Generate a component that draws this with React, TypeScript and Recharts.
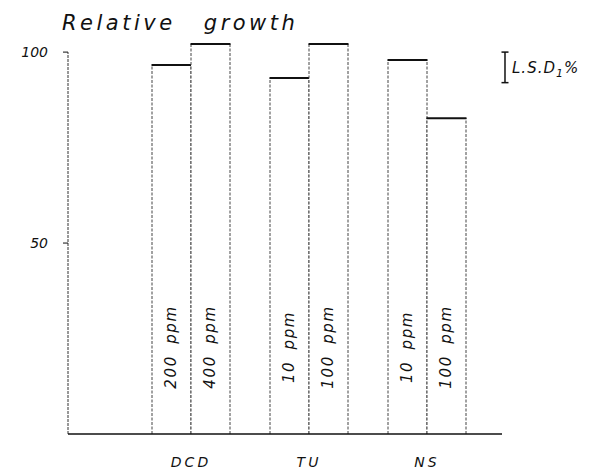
import React from "react";
import {
  ComposedChart,
  Bar,
  XAxis,
  YAxis,
  ReferenceLine,
  LabelList,
} from "recharts";

const groups = ["DCD", "TU", "NS"];
const lowDoseLabels = ["200 ppm", "10 ppm", "10 ppm"];
const highDoseLabels = ["400 ppm", "100 ppm", "100 ppm"];
const lowDoseValues = [96.6, 93.2, 97.9];
const highDoseValues = [102.1, 102.1, 82.7];
const yTicks = [50, 100];
const lsdTop = 100;
const lsdValue = 8;

const data = groups.map((g, i) => ({
  group: g,
  low: lowDoseValues[i],
  high: highDoseValues[i],
  lowLabel: lowDoseLabels[i],
  highLabel: highDoseLabels[i],
}));

const FONT = "'DejaVu Sans', 'Liberation Sans', sans-serif";

// horizontal positions along the hidden helper axis (0 = plot left, 2 = plot right)
const AXIS_END = 1.9204;
const LSD_X = 1.9336;
const LSD_CAP = 0.0155;

const BarShape = (p: any) => {
  const { x, y, width, height } = p;
  if (width == null || height == null) return null;
  return (
    <g>
      <rect x={x} y={y} width={width} height={height} fill="#fff" />
      <line x1={x} y1={y + height} x2={x} y2={y} stroke="#444" strokeWidth={1} strokeDasharray="3 1.5" />
      <line x1={x + width} y1={y + height} x2={x + width} y2={y} stroke="#444" strokeWidth={1} strokeDasharray="3 1.5" />
      <line x1={x - 0.5} y1={y} x2={x + width + 0.5} y2={y} stroke="#111" strokeWidth={2} />
    </g>
  );
};

const RotLabel = (props: any) => {
  const vb = props.viewBox || {};
  const x = props.x ?? vb.x;
  const y = props.y ?? vb.y;
  const width = props.width ?? vb.width;
  const height = props.height ?? vb.height;
  const cx = x + width / 2 - 1;
  const cy = y + height - 87;
  return (
    <text
      x={cx}
      y={cy}
      transform={`rotate(-90 ${cx} ${cy})`}
      textAnchor="middle"
      dominantBaseline="central"
      fontFamily={FONT}
      fontStyle="italic"
      fontSize={15}
      letterSpacing={1.6}
      wordSpacing={5}
      fill="#111"
    >
      {props.value}
    </text>
  );
};

export default function App() {
  return (
    <div style={{ position: "absolute", left: 0, top: 0, width: 589, height: 471, background: "#fff" }}>
      <div
        style={{
          position: "absolute",
          left: 62,
          top: 11,
          fontFamily: FONT,
          fontStyle: "italic",
          fontSize: 21,
          letterSpacing: 3.5,
          wordSpacing: 18,
          color: "#111",
          whiteSpace: "nowrap",
        }}
      >
        Relative growth
      </div>
      <div
        style={{
          position: "absolute",
          left: 512,
          top: 59,
          fontFamily: FONT,
          fontStyle: "italic",
          fontSize: 15,
          letterSpacing: 1,
          color: "#111",
          whiteSpace: "nowrap",
        }}
      >
        L.S.D<sub style={{ fontSize: 11 }}>1</sub>%
      </div>
      <ComposedChart
        width={589}
        height={471}
        data={data}
        margin={{ top: 33, right: 69, bottom: 7, left: 8 }}
        barCategoryGap={20}
        barGap={0}
      >
        <XAxis
          xAxisId="cat"
          dataKey="group"
          padding={{ left: 64, right: 34 }}
          axisLine={false}
          tickLine={false}
          height={30}
          tickMargin={17}
          tick={{ fontFamily: FONT, fontStyle: "italic", fontSize: 14, fill: "#111", letterSpacing: 3 }}
          interval={0}
        />
        <XAxis xAxisId="num" type="number" domain={[0, 2]} allowDataOverflow hide />
        <YAxis
          domain={[0, 105]}
          ticks={yTicks}
          width={60}
          axisLine={false}
          tickSize={5}
          tickMargin={15}
          tickLine={{ stroke: "#111" }}
          tick={{ fontFamily: FONT, fontStyle: "italic", fontSize: 14, fill: "#111" }}
        />
        <ReferenceLine
          xAxisId="num"
          segment={[{ x: 0, y: 0 }, { x: 0, y: 100 }]}
          stroke="#333"
          strokeDasharray="3 1"
          ifOverflow="visible"
        />
        <ReferenceLine
          xAxisId="num"
          segment={[{ x: 0, y: 0 }, { x: AXIS_END, y: 0 }]}
          stroke="#111"
          strokeWidth={1.6}
          ifOverflow="visible"
        />
        <ReferenceLine
          xAxisId="num"
          segment={[{ x: LSD_X, y: lsdTop }, { x: LSD_X, y: lsdTop - lsdValue }]}
          stroke="#111"
          strokeWidth={1.5}
          ifOverflow="visible"
        />
        <ReferenceLine
          xAxisId="num"
          segment={[{ x: LSD_X - LSD_CAP, y: lsdTop }, { x: LSD_X + LSD_CAP, y: lsdTop }]}
          stroke="#111"
          strokeWidth={1.5}
          ifOverflow="visible"
        />
        <ReferenceLine
          xAxisId="num"
          segment={[{ x: LSD_X - LSD_CAP, y: lsdTop - lsdValue }, { x: LSD_X + LSD_CAP, y: lsdTop - lsdValue }]}
          stroke="#111"
          strokeWidth={1.5}
          ifOverflow="visible"
        />
        <Bar xAxisId="cat" dataKey="low" shape={<BarShape />} isAnimationActive={false}>
          <LabelList dataKey="lowLabel" content={<RotLabel />} />
        </Bar>
        <Bar xAxisId="cat" dataKey="high" shape={<BarShape />} isAnimationActive={false}>
          <LabelList dataKey="highLabel" content={<RotLabel />} />
        </Bar>
      </ComposedChart>
    </div>
  );
}
